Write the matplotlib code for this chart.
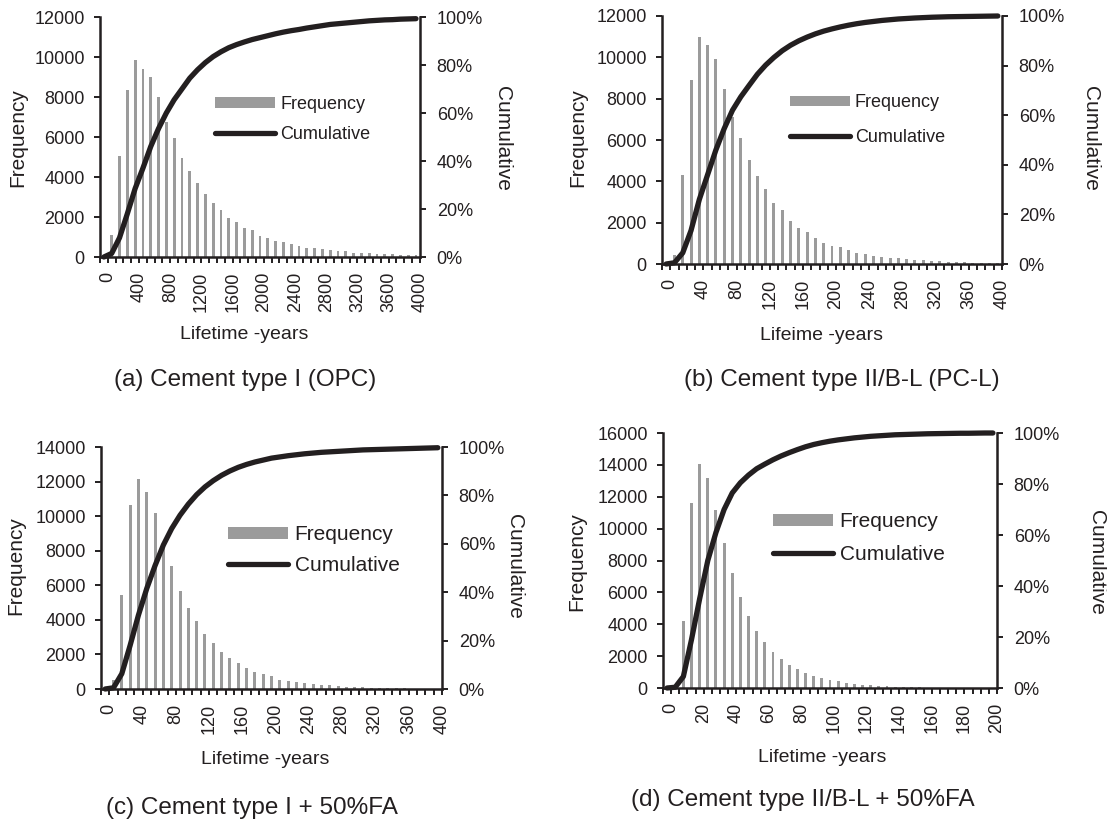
import numpy as np
import matplotlib.pyplot as plt
from matplotlib.patches import Patch
from matplotlib.lines import Line2D

plt.rcParams['font.family'] = ['Liberation Sans', 'DejaVu Sans']
W, H = 1107, 830
ink = '#231f20'
grey = '#9b9b9b'

####data####
# (a) Cement type I (OPC), bins of 100 years
a_bins = list(range(0, 4001, 100))
a_freq = [0, 1080, 5030, 8330, 9870, 9420, 9000, 8000, 6750, 5970, 4970, 4300, 3700, 3130, 2720,
          2370, 1930, 1770, 1450, 1350, 1050, 930, 820, 730, 650, 530, 450, 430, 380, 330,
          320, 280, 220, 220, 180, 170, 150, 130, 120, 110, 100]
a_cum = [0, 1.5, 8, 18, 28.5, 37, 46, 53.5, 60, 65.5, 70, 74.5, 78, 81, 83.5, 85.5, 87.2, 88.5,
         89.6, 90.6, 91.4, 92.2, 93, 93.7, 94.3, 94.8, 95.4, 95.9, 96.4, 96.9, 97.2, 97.5, 97.8,
         98.1, 98.4, 98.6, 98.8, 98.9, 99.1, 99.2, 99.3]

# (b) Cement type II/B-L (PC-L), bins of 10 years
b_bins = list(range(0, 401, 10))
b_freq = [0, 440, 4290, 8900, 10970, 10580, 9900, 8480, 7100, 6100, 5020, 4240, 3610, 2930, 2590,
          2100, 1750, 1570, 1260, 1040, 890, 810, 700, 530, 490, 390, 360, 310, 280, 240,
          190, 170, 150, 130, 110, 90, 80, 70, 60, 50, 40]
b_cum = [0, 0.5, 4.5, 13.5, 26, 36, 46, 54.6, 62, 67.4, 72, 76.5, 80.2, 83.3, 86, 88.2, 90, 91.5,
         92.8, 93.9, 94.8, 95.6, 96.3, 96.9, 97.4, 97.8, 98.2, 98.5, 98.8, 99.0, 99.2, 99.35, 99.5,
         99.6, 99.7, 99.75, 99.8, 99.85, 99.9, 99.95, 100]

# (c) Cement type I + 50%FA, bins of 10 years
c_bins = list(range(0, 401, 10))
c_freq = [0, 540, 5450, 10650, 12140, 11370, 10210, 8400, 7090, 5680, 4680, 3910, 3160, 2640, 2160,
          1790, 1500, 1190, 1000, 870, 730, 520, 480, 420, 370, 290, 230, 210, 150, 135,
          100, 95, 80, 60, 50, 40, 30, 25, 20, 15, 10]
c_cum = [0, 0.5, 6.3, 18, 30.5, 41.5, 51, 59.5, 66.3, 71.8, 76.4, 80.3, 83.5, 86.1, 88.3, 90.1, 91.6,
         92.8, 93.8, 94.6, 95.4, 95.9, 96.4, 96.8, 97.2, 97.5, 97.8, 98.0, 98.2, 98.4, 98.6, 98.8,
         98.9, 99.0, 99.1, 99.2, 99.3, 99.4, 99.5, 99.6, 99.7]

# (d) Cement type II/B-L + 50%FA, bins of 5 years
d_bins = list(range(0, 201, 5))
d_freq = [0, 50, 4230, 11600, 14070, 13190, 11180, 9090, 7200, 5700, 4540, 3560, 2910, 2280, 1800,
          1470, 1190, 940, 730, 650, 500, 460, 310, 250, 210, 170, 130, 100, 80, 60,
          50, 40, 30, 25, 20, 15, 10, 8, 5, 3, 2]
d_cum = [0, 0.3, 4.5, 19, 35, 50, 61, 70, 76.5, 80.5, 83.5, 86, 87.8, 89.5, 91, 92.3, 93.5, 94.6,
         95.5, 96.2, 96.8, 97.3, 97.7, 98.1, 98.4, 98.7, 98.9, 99.1, 99.3, 99.4, 99.5, 99.6, 99.7,
         99.75, 99.8, 99.85, 99.9, 99.9, 99.95, 100, 100]


fig = plt.figure(figsize=(W / 100, H / 100), dpi=100)


def fx(px):
    return px / W


def fy(py):
    return 1 - py / H


def panel(box, bins, freq, cum, ymax, title, title_xy, xlabel, xlabel_xy,
          ylab_x, cumlab_x, lab_y, leg_xy, leg_fs, leg_len, leg_sp):
    l, r, t, b = box
    ax = fig.add_axes([fx(l), fy(b), fx(r - l), (b - t) / H])
    x = np.arange(len(bins))
    ax.bar(x, freq, width=0.36, color=grey, zorder=1)
    ax.set_xlim(-0.5, len(bins) - 0.5)
    ax.set_ylim(0, ymax)
    ax.set_yticks(np.arange(0, ymax + 1, 2000))
    # tick marks between the categories, labels a little right of every 4th category
    ax.set_xticks(np.arange(-0.5, len(bins), 1))
    ax.set_xticklabels([])
    nudge = 4 / ((r - l) / len(bins))
    ax.set_xticks(x[::4] + nudge, minor=True)
    ax.set_xticklabels([str(v) for v in bins[::4]], minor=True, rotation=90)
    ax.tick_params(axis='x', which='major', direction='out', length=4.5, width=1.4, color=ink)
    ax.tick_params(axis='x', which='minor', length=0, pad=10.5, labelsize=13, labelcolor=ink)
    ax.tick_params(axis='y', direction='out', length=4.5, width=1.4, color=ink,
                   labelsize=13, labelcolor=ink, pad=6.5)
    for s in ['left', 'bottom']:
        ax.spines[s].set_linewidth(1.8)
        ax.spines[s].set_color(ink)
    ax.spines['top'].set_visible(False)
    ax.spines['right'].set_visible(False)

    ax2 = ax.twinx()
    ax2.plot(x, cum, color=ink, lw=3.8, solid_capstyle='round',
             solid_joinstyle='round', clip_on=False)
    ax2.set_ylim(0, 100)
    ax2.set_yticks(np.arange(0, 101, 20))
    ax2.set_yticklabels([f'{v}%' for v in range(0, 101, 20)])
    ax2.tick_params(axis='y', direction='out', length=4.5, width=1.4, color=ink,
                    labelsize=13, labelcolor=ink, pad=7.5)
    for s in ['top', 'left', 'bottom']:
        ax2.spines[s].set_visible(False)
    ax2.spines['right'].set_linewidth(1.8)
    ax2.spines['right'].set_color(ink)

    handles = [Patch(facecolor=grey, edgecolor='none'),
               Line2D([], [], color=ink, lw=3.8, solid_capstyle='round')]
    ax2.legend(handles, ['Frequency', 'Cumulative'], loc='center left',
               bbox_to_anchor=((leg_xy[0] - l) / (r - l), (b - leg_xy[1]) / (b - t)),
               frameon=False, fontsize=leg_fs, handlelength=leg_len, handleheight=0.55,
               handletextpad=0.3, labelspacing=leg_sp, borderpad=0, borderaxespad=0,
               labelcolor=ink)

    fig.text(fx(ylab_x), fy(lab_y), 'Frequency', rotation=90, ha='center', va='center',
             fontsize=15, color=ink)
    fig.text(fx(cumlab_x), fy(lab_y), 'Cumulative', rotation=270, ha='center', va='center',
             fontsize=15, color=ink)
    fig.text(fx(xlabel_xy[0]), fy(xlabel_xy[1]), xlabel, ha='center', va='center',
             fontsize=14, color=ink)
    fig.text(fx(title_xy[0]), fy(title_xy[1]), title, ha='center', va='center',
             fontsize=17.5, color=ink)


panel((100, 420, 17, 257), a_bins, a_freq, a_cum, 12000,
      '(a) Cement type I (OPC)', (245, 380), 'Lifetime -years', (244, 334),
      18, 502, 138, (215, 119), 13, 3.3, 0.72)
panel((662, 1002, 16, 264), b_bins, b_freq, b_cum, 12000,
      '(b) Cement type II/B-L (PC-L)', (842, 380), 'Lifeime -years', (822, 335),
      578, 1090, 138, (790, 120), 13, 3.3, 0.95)
panel((101, 442, 447, 689), c_bins, c_freq, c_cum, 14000,
      '(c) Cement type I + 50%FA', (252, 808), 'Lifetime -years', (265, 759),
      16, 515, 566, (228, 550), 15, 2.9, 0.55)
panel((663, 997, 433, 688), d_bins, d_freq, d_cum, 16000,
      '(d) Cement type II/B-L + 50%FA', (803, 800), 'Lifetime -years', (822, 757),
      577, 1097, 562, (773, 538), 15, 2.9, 0.65)

fig.savefig('out.png', dpi=100)
